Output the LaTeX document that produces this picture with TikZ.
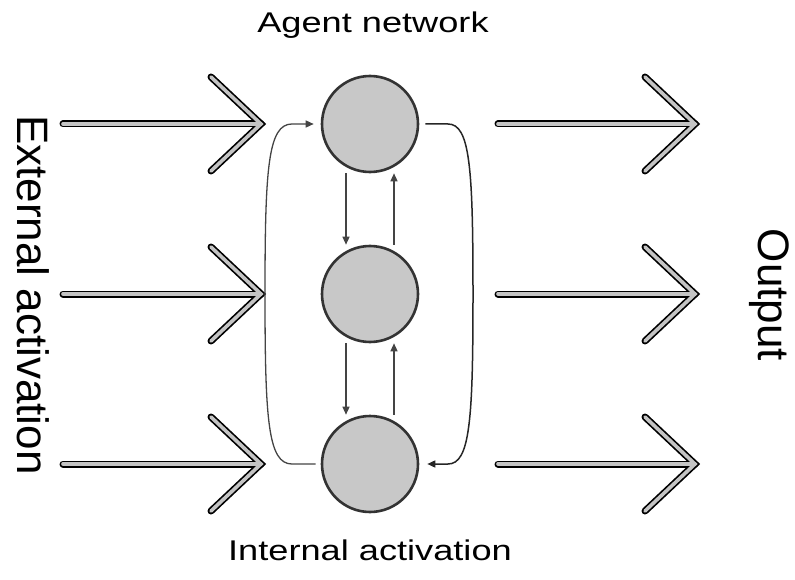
\documentclass[tikz,border=0pt]{standalone}
\usepackage{fontspec}
\setmainfont{Liberation Sans}
\usetikzlibrary{arrows.meta}
\definecolor{circfill}{HTML}{C8C8C8}
\definecolor{circline}{HTML}{333333}
\definecolor{connline}{HTML}{444444}
\definecolor{bigfill}{HTML}{C4C4C4}
\tikzset{
  circ/.style={circle, draw=circline, line width=2.6pt, fill=circfill, minimum size=96pt, inner sep=0pt},
  conn/.style={draw=connline, line width=1.3pt, -{Triangle[length=8pt,width=7pt]}},
  bigout/.style={draw=black, line width=7pt, line cap=round, line join=miter},
  bigin/.style={draw=bigfill, line width=3.6pt, line cap=round, line join=miter},
  hlabel/.style={font=\fontsize{28.5pt}{30pt}\selectfont, anchor=base, inner sep=0pt},
  vlabel/.style={font=\fontsize{44pt}{46pt}\selectfont, anchor=base, rotate=-90, inner sep=0pt}
}
\begin{document}
\begin{tikzpicture}[x=1pt,y=-1pt]
\useasboundingbox (0,0) rectangle (795,580);
% circles
\node[circ] (T) at (370,124) {};
\node[circ] (M) at (370,294) {};
\node[circ] (B) at (370,464) {};
% labels
\node[hlabel] (agent) at (373,33) {\scalebox{1.27}[1]{Agent network}};
\node[hlabel] (internal) at (370,560) {\scalebox{1.27}[1]{Internal activation}};
\node[vlabel] (external) at (17,295) {External activation};
\node[vlabel] (output) at (758,295) {Output};
% big arrows
\foreach \y [count=\i] in {124,294,464}{
  \coordinate (ls\i) at (63,\y);  \coordinate (lt\i) at (261,\y);
  \coordinate (lu\i) at (211,\y-47); \coordinate (ll\i) at (211,\y+47);
  \coordinate (rs\i) at (498,\y); \coordinate (rt\i) at (695,\y);
  \coordinate (ru\i) at (645,\y-47); \coordinate (rl\i) at (645,\y+47);
}
\foreach \i in {1,2,3}{
  \draw[bigout] (ls\i) -- (lt\i);
  \draw[bigout] (lu\i) -- (lt\i) -- (ll\i);
  \draw[bigin] (ls\i) -- ([xshift=-3pt]lt\i);
  \draw[bigin] (lu\i) -- (lt\i) -- (ll\i);
  \draw[bigout] (rs\i) -- (rt\i);
  \draw[bigout] (ru\i) -- (rt\i) -- (rl\i);
  \draw[bigin] (rs\i) -- ([xshift=-3pt]rt\i);
  \draw[bigin] (ru\i) -- (rt\i) -- (rl\i);
}
% vertical connectors
\draw[conn] ([xshift=-24pt]T.south) -- ([xshift=-24pt]M.north);
\draw[conn] ([xshift=24pt]M.north) -- ([xshift=24pt]T.south);
\draw[conn] ([xshift=-24pt]M.south) -- ([xshift=-24pt]B.north);
\draw[conn] ([xshift=24pt]B.north) -- ([xshift=24pt]M.south);
% loops
\coordinate (lx) at (265,294);
\coordinate (lb) at (292,464);
\coordinate (lt) at (292,124);
\coordinate (rx) at (473,294);
\coordinate (rtp) at (448,124);
\coordinate (rb) at (448,464);
\draw[conn] ([xshift=-5pt]B.west) -- (lb)
  .. controls (268,464) and (265,420) .. (lx)
  .. controls (265,168) and (268,124) .. (lt) -- ([xshift=-7pt]T.west);
\draw[conn, draw=black!85, line width=1.5pt] ([xshift=6pt]T.east) -- (rtp)
  .. controls (470,124) and (473,168) .. (rx)
  .. controls (473,420) and (470,464) .. (rb) -- ([xshift=8pt]B.east);
\end{tikzpicture}
\end{document}
